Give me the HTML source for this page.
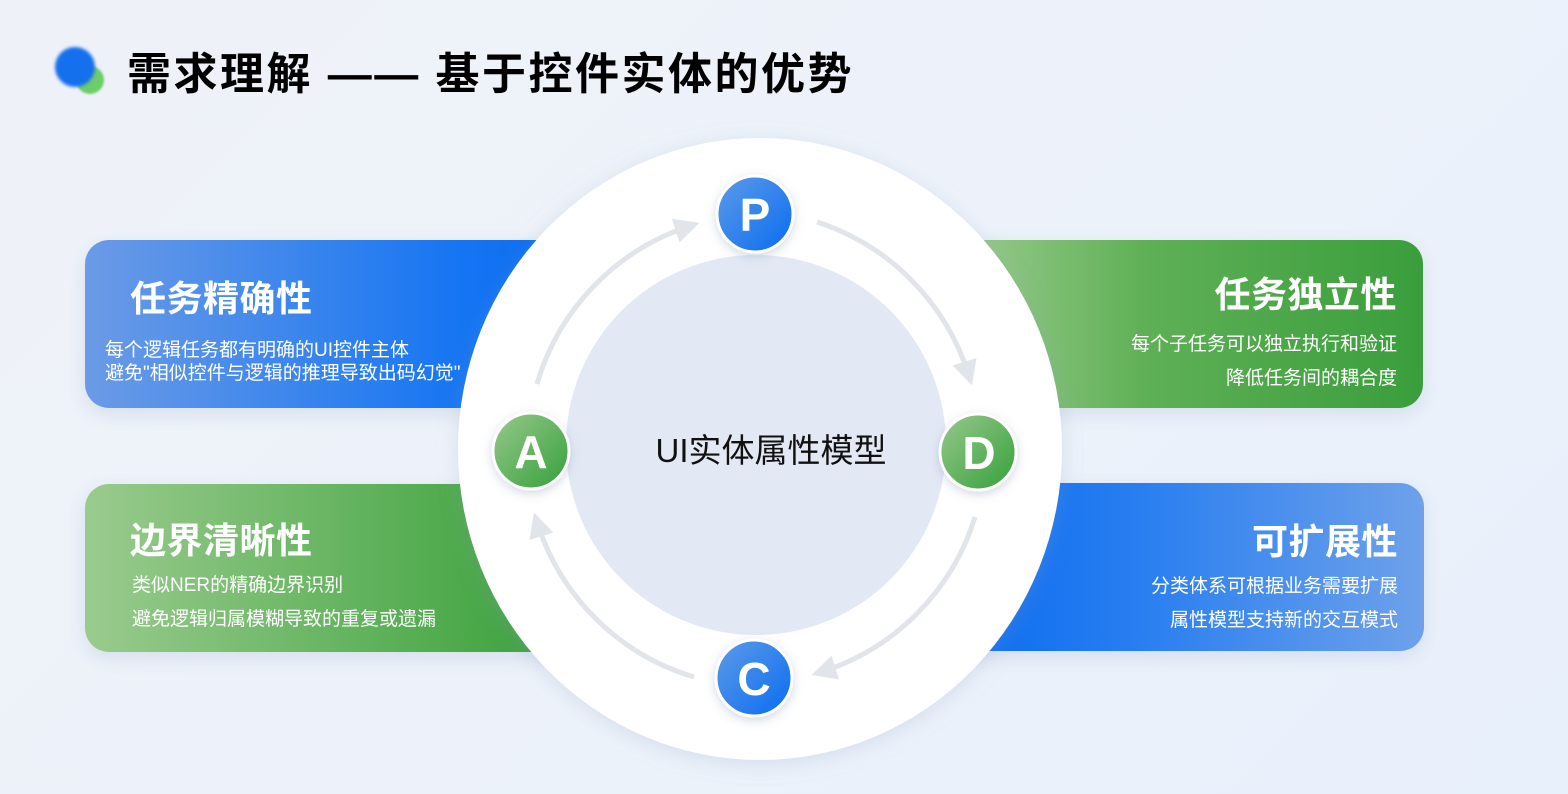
<!DOCTYPE html>
<html><head><meta charset="utf-8"><style>
body{margin:0;width:1568px;height:794px;overflow:hidden;background:linear-gradient(135deg,#eef2f8 0%,#edf2fa 50%,#e8f0fb 100%);font-family:"Liberation Sans","Noto Sans CJK SC",sans-serif;position:relative}
.t{position:absolute;white-space:nowrap}
.card{position:absolute;border-radius:24px;color:#fff;box-shadow:0 6px 18px rgba(60,90,140,.12)}
.blue{background:linear-gradient(90deg,#6b9be6,#1474f2 80%,#0a6cf0)}
.green{background:linear-gradient(90deg,#9acb8e,#4ca94a 80%,#3a9e3c)}
.greenR{background:linear-gradient(90deg,#9acb8e,#5fb056 40%,#3a9e3c)}
.h{font-size:36px;font-weight:bold;position:absolute;letter-spacing:0.5px}
.b{font-size:19px;position:absolute;line-height:34px;white-space:nowrap}
</style></head><body>
<div style="position:absolute;left:76px;top:66px;width:28px;height:28px;border-radius:50%;background:#6ccd6a;filter:blur(1px)"></div>
<div style="position:absolute;left:55px;top:47px;width:40px;height:40px;border-radius:50%;background:#1570ee;filter:blur(1.5px)"></div>
<div class="t" style="left:127px;top:38px;font-size:44px;font-weight:bold;color:#000;letter-spacing:2.5px">需求理解 —— 基于控件实体的优势</div>

<div class="card blue" style="left:85px;top:240px;width:480px;height:168px">
<div class="h" style="left:45px;top:30px">任务精确性</div>
<div class="b" style="left:20px;top:99px;line-height:23px">每个逻辑任务都有明确的UI控件主体<br>避免"相似控件与逻辑的推理导致出码幻觉"</div></div>
<div class="card green" style="left:85px;top:484px;width:480px;height:168px">
<div class="h" style="left:45px;top:28px">边界清晰性</div>
<div class="b" style="left:47px;top:85px">类似NER的精确边界识别<br>避免逻辑归属模糊导致的重复或遗漏</div></div>
<div class="card greenR" style="left:960px;top:240px;width:463px;height:168px">
<div class="h" style="right:26px;top:26px">任务独立性</div>
<div class="b" style="right:26px;top:88px;text-align:right">每个子任务可以独立执行和验证<br>降低任务间的耦合度</div></div>
<div class="card" style="left:960px;top:483px;width:464px;height:168px;background:linear-gradient(90deg,#0a6cf0,#2a7ff0 40%,#6ea1ea)">
<div class="h" style="right:26px;top:30px">可扩展性</div>
<div class="b" style="right:26px;top:87px;text-align:right">分类体系可根据业务需要扩展<br>属性模型支持新的交互模式</div></div>

<svg style="position:absolute;left:0;top:0" width="1568" height="794">
<defs>
<filter id="sh" x="-20%" y="-20%" width="140%" height="140%"><feDropShadow dx="0" dy="4" stdDeviation="10" flood-color="#8aa0c0" flood-opacity=".25"/></filter>
<filter id="ns" x="-50%" y="-50%" width="200%" height="200%"><feDropShadow dx="0" dy="3" stdDeviation="5" flood-color="#7080a0" flood-opacity=".3"/></filter>
<linearGradient id="gb" x1="0" y1="0" x2="1" y2="1"><stop offset="0" stop-color="#5d9be8"/><stop offset="1" stop-color="#0a6cf0"/></linearGradient>
<linearGradient id="gg" x1="0" y1="0" x2="1" y2="1"><stop offset="0" stop-color="#97c98b"/><stop offset="1" stop-color="#35a03a"/></linearGradient>
<marker id="ar" markerWidth="6" markerHeight="6" refX="3" refY="3" orient="auto" markerUnits="strokeWidth"><path d="M0,0.5 L5,3 L0,5.5 Z" fill="#e1e4e9"/></marker>
</defs>
<ellipse cx="760" cy="449" rx="302" ry="311" fill="#fff" filter="url(#sh)"/>
<circle cx="756" cy="445" r="190" fill="#e2e9f5"/>
<g fill="none" stroke="#e1e4e9" stroke-width="5" marker-end="url(#ar)">
<path d="M817,222 A235,235 0 0 1 969,376"/>
<path d="M975,517 A235,235 0 0 1 821,672"/>
<path d="M694,677 A235,235 0 0 1 537,522"/>
<path d="M537,384 A235,235 0 0 1 690,226"/>
</g>
<g filter="url(#ns)" stroke="#fff" stroke-width="3">
<circle cx="755" cy="214" r="38" fill="url(#gb)"/>
<circle cx="978" cy="452" r="38" fill="url(#gg)"/>
<circle cx="754" cy="678" r="38" fill="url(#gb)"/>
<circle cx="531" cy="451" r="38" fill="url(#gg)"/>
</g>
<g fill="#fff" font-family="Liberation Sans,sans-serif" font-weight="bold" font-size="46" text-anchor="middle">
<text x="755" y="231">P</text><text x="979" y="469">D</text><text x="754" y="695">C</text><text x="531" y="468">A</text>
</g>
<text x="771" y="462" text-anchor="middle" font-size="33" fill="#111" font-family="Liberation Sans,Noto Sans CJK SC,sans-serif">UI实体属性模型</text>
</svg>
</body></html>
